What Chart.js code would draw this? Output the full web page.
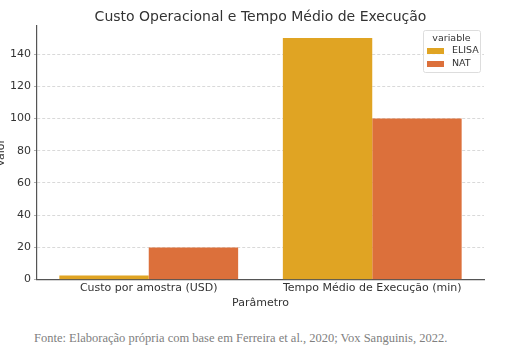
<!DOCTYPE html>
<html>
<head>
<meta charset="utf-8">
<script src="https://cdn.jsdelivr.net/npm/chart.js@4"></script>
<style>
  body { margin: 0; background: #fff; overflow: hidden; }
  #wrap { position: relative; width: 508px; height: 353px; overflow: hidden; }
  #fonte { position: absolute; left: 34px; top: 331px; font-family: "Liberation Serif", serif; font-size: 12.5px; color: #808080; white-space: nowrap; }
</style>
</head>
<body>
<div id="wrap">
  <div style="position:absolute;left:-4px;top:0;width:512px;height:310px;"><canvas id="chart"></canvas></div>
  <div id="fonte">Fonte: Elaboração própria com base em Ferreira et al., 2020; Vox Sanguinis, 2022.</div>
</div>
<script>
const categories = ['Custo por amostra (USD)', 'Tempo Médio de Execução (min)'];
const elisaValues = [2.5, 150];
const natValues = [20, 100];
const seriesNames = ['ELISA', 'NAT'];
const seriesColors = ['#e0a423', '#dc703b'];
const chartTitle = 'Custo Operacional e Tempo Médio de Execução';

// title centred over the plot area, like matplotlib does
const plotTitle = {
  id: 'plotTitle',
  afterDraw(chart) {
    const ctx = chart.ctx;
    const area = chart.chartArea;
    ctx.save();
    ctx.font = '14px "DejaVu Sans"';
    ctx.fillStyle = '#333';
    ctx.textAlign = 'center';
    ctx.textBaseline = 'middle';
    ctx.fillText(chartTitle, (area.left + area.right) / 2, 17);
    ctx.restore();
  }
};

// legend drawn inside the plot, top right (seaborn style)
const boxLegend = {
  id: 'boxLegend',
  afterDraw(chart) {
    const ctx = chart.ctx;
    const area = chart.chartArea;
    const w = 57, h = 42;
    const x = area.right - w - 4, y = area.top + 4;
    ctx.save();
    ctx.fillStyle = 'rgba(255,255,255,0.8)';
    ctx.strokeStyle = '#dddddd';
    ctx.lineWidth = 1;
    ctx.beginPath();
    ctx.roundRect(x + 0.5, y + 0.5, w, h, 2);
    ctx.fill();
    ctx.stroke();
    ctx.font = '9.5px "DejaVu Sans"';
    ctx.fillStyle = '#333';
    ctx.textAlign = 'center';
    ctx.textBaseline = 'middle';
    ctx.fillText('variable', x + w / 2, y + 9);
    ctx.textAlign = 'left';
    chart.data.datasets.forEach((ds, i) => {
      const yy = y + 21 + i * 13;
      ctx.fillStyle = ds.backgroundColor;
      ctx.fillRect(x + 4, yy - 3, 17, 6);
      ctx.fillStyle = '#333';
      ctx.fillText(ds.label, x + 29, yy);
    });
    ctx.restore();
  }
};

new Chart(document.getElementById('chart').getContext('2d'), {
  type: 'bar',
  data: {
    labels: categories,
    datasets: [
      { label: seriesNames[0], data: elisaValues, backgroundColor: seriesColors[0] },
      { label: seriesNames[1], data: natValues, backgroundColor: seriesColors[1] },
    ],
  },
  options: {
    responsive: true,
    maintainAspectRatio: false,
    animation: false,
    layout: { padding: { left: 0, right: 24, top: 26, bottom: 0 } },
    datasets: { bar: { barPercentage: 1, categoryPercentage: 0.8 } },
    plugins: {
      legend: { display: false },
      tooltip: { enabled: false },
      title: { display: false },
    },
    scales: {
      x: {
        grid: { display: false, drawTicks: false },
        border: { color: '#555', width: 1.2 },
        ticks: { color: '#333', font: { family: 'DejaVu Sans', size: 11 }, padding: 2 },
        title: { display: true, text: 'Parâmetro', color: '#333', font: { family: 'DejaVu Sans', size: 11 }, padding: { top: 0, bottom: 0 } },
      },
      y: {
        min: 0,
        max: 157.5,
        afterBuildTicks: (scale) => { scale.ticks = scale.ticks.filter(t => t.value % 20 === 0); },
        grid: { color: '#cfcfcf', drawTicks: true, tickLength: 3, tickColor: '#999', lineWidth: 0.8 },
        border: { color: '#555', width: 1.2, dash: [3, 2] },
        ticks: { stepSize: 20, color: '#333', font: { family: 'DejaVu Sans', size: 11 }, padding: 3 },
        title: { display: true, text: 'Valor', color: '#333', font: { family: 'DejaVu Sans', size: 11, lineHeight: 1 }, padding: { top: 0, bottom: 0 } },
      },
    },
  },
  plugins: [plotTitle, boxLegend],
});
</script>
</body>
</html>
